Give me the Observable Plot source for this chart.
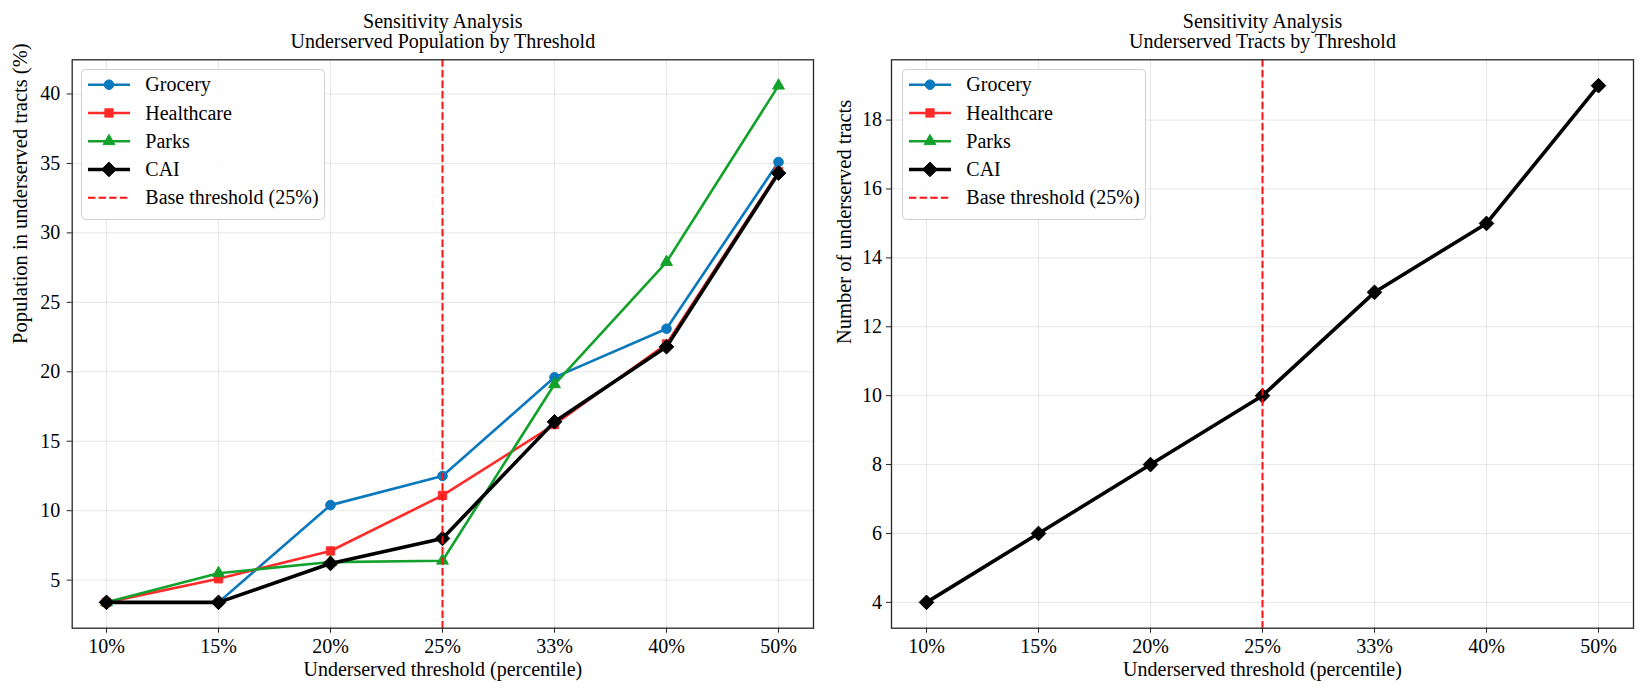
<!DOCTYPE html>
<html>
<head>
<meta charset="utf-8">
<script src="https://cdn.jsdelivr.net/npm/d3@7"></script>
<script src="https://cdn.jsdelivr.net/npm/@observablehq/plot@0.6"></script>
<style>
  html, body { margin: 0; padding: 0; background: #fff; }
  #wrap { position: relative; width: 1646px; height: 695px; overflow: hidden;
          font-family: "Liberation Serif", "Times New Roman", "DejaVu Serif", serif; }
  .panel { position: absolute; top: 0; }
  .panel text { font-family: "Liberation Serif", "Times New Roman", serif !important; font-variant: normal !important; }
  .legend { position: absolute; }
</style>
</head>
<body>
<div id="wrap"></div>
<script>
// ---------------- data ----------------
const thresholds = ["10%", "15%", "20%", "25%", "33%", "40%", "50%"];
const groceryPop    = [3.4, 3.4, 10.4, 12.5, 19.6, 23.1, 35.1];
const healthcarePop = [3.4, 5.1, 7.1, 11.1, 16.2, 22.0, 34.4];
const parksPop      = [3.4, 5.5, 6.3, 6.4, 19.1, 27.9, 40.6];
const caiPop        = [3.4, 3.4, 6.2, 8.0, 16.4, 21.8, 34.3];
const caiTracts     = [4, 6, 8, 10, 13, 15, 19];
const baseThreshold = "25%";
const popTicks    = [5, 10, 15, 20, 25, 30, 35, 40];
const tractTicks  = [4, 6, 8, 10, 12, 14, 16, 18];
const seriesNames = ["Grocery", "Healthcare", "Parks", "CAI"];
const baseLabel   = "Base threshold (25%)";

// ---------------- styles ----------------
const FONT = '"Liberation Serif", "Times New Roman", serif';
const style = {
  Grocery:    {color: "#0a78bd", symbol: "circle",   r: 4.8, width: 2.6},
  Healthcare: {color: "#ff2b2b", symbol: "square",   r: 4.7, width: 2.6},
  Parks:      {color: "#12a22b", symbol: "triangle", r: 4.4, width: 2.6},
  CAI:        {color: "#000000", symbol: "diamond2", r: 6.6, width: 3.6}
};
const d3Symbols = {circle: d3.symbolCircle, square: d3.symbolSquare, triangle: d3.symbolTriangle, diamond2: d3.symbolDiamond2};

function rows(name, values) {
  return thresholds.map((t, i) => ({series: name, threshold: t, value: values[i]}));
}
function padDomain(vals) {
  const [lo, hi] = d3.extent(vals);
  const m = (hi - lo) * 0.05;
  return [lo - m, hi + m];
}

function makePanel({series, yTicks, yLabel, title, left, marginLeft, marginRight, yTickPadding, yLabelDx}) {
  const allVals = series.flatMap(s => s.rows.map(d => d.value));
  const marks = [
    Plot.gridX(thresholds, {stroke: "#b0b0b0", strokeOpacity: 0.32, strokeWidth: 1}),
    Plot.gridY(yTicks, {stroke: "#b0b0b0", strokeOpacity: 0.32, strokeWidth: 1}),
    Plot.axisX({tickSize: 5, tickPadding: 5.5, label: null, fontSize: 20, fontFamily: FONT, fontVariant: "normal", stroke: "#222"}),
    Plot.axisY(yTicks, {tickSize: 5, tickPadding: yTickPadding, label: null, fontSize: 20, fontFamily: FONT, fontVariant: "normal", stroke: "#222"})
  ];
  for (const s of series) {
    const st = style[s.name];
    marks.push(Plot.line(s.rows, {x: "threshold", y: "value", stroke: st.color, strokeWidth: st.width}));
    marks.push(Plot.dot(s.rows, {x: "threshold", y: "value", symbol: st.symbol, r: st.r, fill: st.color, stroke: st.color, strokeWidth: 1}));
  }
  marks.push(Plot.ruleX([baseThreshold], {stroke: "#ff1010", strokeWidth: 2, strokeDasharray: "7.4,3.2"}));
  marks.push(Plot.frame({stroke: "#262626", strokeWidth: 1.3}));
  marks.push(Plot.text([title], {text: d => d, frameAnchor: "top", dy: -11.6, lineAnchor: "bottom", lineHeight: 1.02, fontSize: 20, fontFamily: FONT, fill: "#000"}));
  marks.push(Plot.text(["Underserved threshold (percentile)"], {text: d => d, frameAnchor: "bottom", dy: 41, lineAnchor: "middle", fontSize: 20, fontFamily: FONT, fill: "#000"}));
  marks.push(Plot.text([yLabel], {text: d => d, frameAnchor: "left", dx: yLabelDx, rotate: -90, lineAnchor: "middle", fontSize: 20.5, fontFamily: FONT, fill: "#000"}));

  const chart = Plot.plot({
    width: 823, height: 695,
    marginLeft, marginRight, marginTop: 59.3, marginBottom: 67.3,
    style: {fontFamily: FONT, fontSize: "20px", color: "#000", background: "transparent", overflow: "visible"},
    x: {type: "point", domain: thresholds, padding: 0.3, label: null},
    y: {domain: padDomain(allVals), label: null},
    marks
  });
  chart.classList.add("panel");
  chart.style.left = left + "px";
  return chart;
}

function makeLegend(left, top) {
  const W = 244, H = 151;
  const svg = d3.create("svg").attr("class", "legend").attr("width", W).attr("height", H)
    .style("left", left + "px").style("top", top + "px").style("font-family", FONT);
  svg.append("rect").attr("x", 0.5).attr("y", 0.5).attr("width", W - 1).attr("height", H - 1)
    .attr("rx", 4).attr("fill", "#fff").attr("fill-opacity", 0.85).attr("stroke", "#d0d0d0").attr("stroke-width", 1);
  const entries = [...seriesNames, baseLabel];
  entries.forEach((name, i) => {
    const cy = 15.7 + i * 28.25;
    const g = svg.append("g");
    if (name === baseLabel) {
      g.append("line").attr("x1", 7).attr("x2", 49).attr("y1", cy).attr("y2", cy)
        .attr("stroke", "#ff1010").attr("stroke-width", 2).attr("stroke-dasharray", "7.4,3.2");
    } else {
      const st = style[name];
      g.append("line").attr("x1", 7).attr("x2", 49).attr("y1", cy).attr("y2", cy)
        .attr("stroke", st.color).attr("stroke-width", st.width);
      g.append("path").attr("transform", `translate(28,${cy})`)
        .attr("d", d3.symbol(d3Symbols[st.symbol], Math.PI * st.r * st.r)())
        .attr("fill", st.color).attr("stroke", st.color).attr("stroke-width", 1);
    }
    g.append("text").attr("x", 64.3).attr("y", cy).attr("dy", "0.33em")
      .attr("font-size", 20).attr("fill", "#000").text(name);
  });
  return svg.node();
}

const wrap = document.getElementById("wrap");

wrap.appendChild(makePanel({
  series: [
    {name: "Grocery", rows: rows("Grocery", groceryPop)},
    {name: "Healthcare", rows: rows("Healthcare", healthcarePop)},
    {name: "Parks", rows: rows("Parks", parksPop)},
    {name: "CAI", rows: rows("CAI", caiPop)}
  ],
  yTicks: popTicks,
  yLabel: "Population in underserved tracts (%)",
  title: "Sensitivity Analysis\nUnderserved Population by Threshold",
  left: 0, marginLeft: 71.7, marginRight: 10, yTickPadding: 7, yLabelDx: -51.7
}));

wrap.appendChild(makePanel({
  series: [{name: "CAI", rows: rows("CAI", caiTracts)}],
  yTicks: tractTicks,
  yLabel: "Number of underserved tracts",
  title: "Sensitivity Analysis\nUnderserved Tracts by Threshold",
  left: 823, marginLeft: 68, marginRight: 13, yTickPadding: 4.5, yLabelDx: -47.5
}));

wrap.appendChild(makeLegend(80.7, 69.3));
wrap.appendChild(makeLegend(901.5, 69.3));
</script>
</body>
</html>
